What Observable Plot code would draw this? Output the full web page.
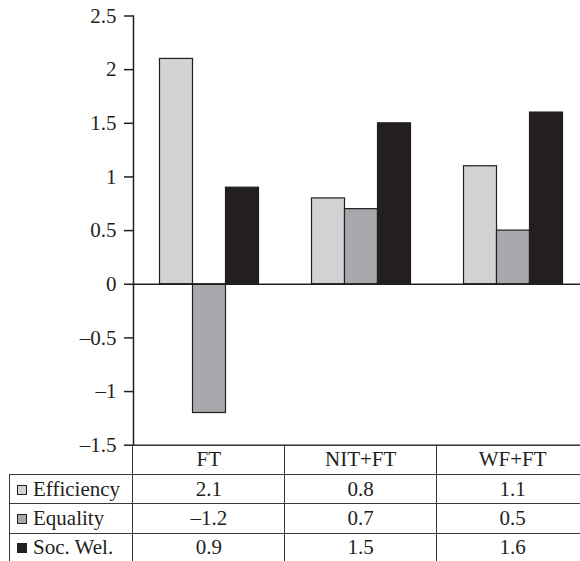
<!DOCTYPE html>
<html>
<head>
<meta charset="utf-8">
<script src="https://cdn.jsdelivr.net/npm/d3@7"></script>
<script src="https://cdn.jsdelivr.net/npm/@observablehq/plot@0.6"></script>
<style>
  html, body { margin: 0; padding: 0; background: #fff; overflow: hidden; }
  .serif { font-family: 'Liberation Serif'; }
  #warm { font-family: 'Liberation Serif'; font-size: 21px; color: #fff; position: absolute; left: 0; top: 620px; white-space: nowrap; }
  #wrap { position: relative; width: 589px; height: 561px; color: #231f20; }
  #chart { position: absolute; left: 0; top: 0; width: 589px; }
  #tbl { position: absolute; left: 9px; top: 444.7px; border-collapse: collapse; table-layout: fixed; font-size: 21px; }
  #tbl td { padding: 0; height: 29.3px; line-height: 1; text-align: center; vertical-align: middle;
            border: 1.5px solid #3a3a3a; box-sizing: border-box; }
  #tbl tr:first-child td { border-top: none; }
  #tbl tr:last-child td { border-bottom: none; }
  #tbl td.blank { border-left: none; border-top: none; }
  #tbl td.lab { text-align: left; padding-left: 7px; white-space: nowrap; }
  .sw { display: inline-block; width: 10px; height: 10px; border: 1px solid #231f20; box-sizing: border-box; margin-right: 6px; vertical-align: 1px; }
</style>
</head>
<body>
<div id="warm" aria-hidden="true">Liberation Serif 0123456789 – . + FT NIT WF Efficiency Equality Soc Wel</div>
<div id="wrap">
  <div id="chart"></div>
  <table id="tbl" class="serif"></table>
</div>
<script>
const groups = ["FT", "NIT+FT", "WF+FT"];
const series = ["Efficiency", "Equality", "Soc. Wel."];
const efficiency = [2.1, 0.8, 1.1];
const equality = [-1.2, 0.7, 0.5];
const socWel = [0.9, 1.5, 1.6];
const yTicks = [-1.5, -1, -0.5, 0, 0.5, 1, 1.5, 2, 2.5];
const colors = ["#d1d2d4", "#a7a8ab", "#231f20"];

const values = [efficiency, equality, socWel];
const fmt = d => (d < 0 ? "\u2013" + Math.abs(d) : String(d));

const data = groups.flatMap((g, i) =>
  series.map((s, j) => ({ group: g, series: s, value: values[j][i] }))
);

const chart = Plot.plot({
  width: 589,
  height: 446,
  marginLeft: 132.5,
  marginRight: 0,
  marginTop: 15.5,
  marginBottom: 1.3,
  style: { fontFamily: "Liberation Serif", fontSize: "21px", color: "#231f20", overflow: "visible", background: "transparent", maxWidth: "none" },
  fx: { domain: groups, padding: 0, axis: null },
  x: { domain: series, paddingInner: 0, paddingOuter: 0.74, axis: null },
  y: { domain: [-1.5, 2.5], axis: null },
  color: { domain: series, range: colors },
  marks: [
    Plot.barY(data, { fx: "group", x: "series", y: "value", fill: "series", stroke: "#231f20", strokeWidth: 1.2 }),
    Plot.ruleY([0], { stroke: "#231f20", strokeWidth: 1.5 }),
    Plot.ruleY([-1.5], { stroke: "#231f20", strokeWidth: 1.5 }),
    Plot.axisY({ ticks: yTicks, tickFormat: fmt, tickSize: 9, tickPadding: 8, facetAnchor: "left", label: null, stroke: "#231f20", strokeWidth: 1.5 }),
    Plot.frame({ anchor: "left", facetAnchor: "left", stroke: "#231f20", strokeWidth: 1.5 })
  ]
});
document.getElementById("chart").appendChild(chart);

// data table (legend + values)
const tbl = document.getElementById("tbl");
const cg = document.createElement("colgroup");
[123.5, 152, 152, 152].forEach(w => { const c = document.createElement("col"); c.style.width = w + "px"; cg.appendChild(c); });
tbl.appendChild(cg);
const head = document.createElement("tr");
const blank = document.createElement("td"); blank.className = "blank"; head.appendChild(blank);
groups.forEach(g => { const td = document.createElement("td"); td.textContent = g; head.appendChild(td); });
tbl.appendChild(head);
series.forEach((s, j) => {
  const tr = document.createElement("tr");
  const lab = document.createElement("td"); lab.className = "lab";
  const sw = document.createElement("span"); sw.className = "sw"; sw.style.background = colors[j];
  lab.appendChild(sw); lab.appendChild(document.createTextNode(s));
  tr.appendChild(lab);
  values[j].forEach(v => { const td = document.createElement("td"); td.textContent = fmt(v); tr.appendChild(td); });
  tbl.appendChild(tr);
});
</script>
</body>
</html>
